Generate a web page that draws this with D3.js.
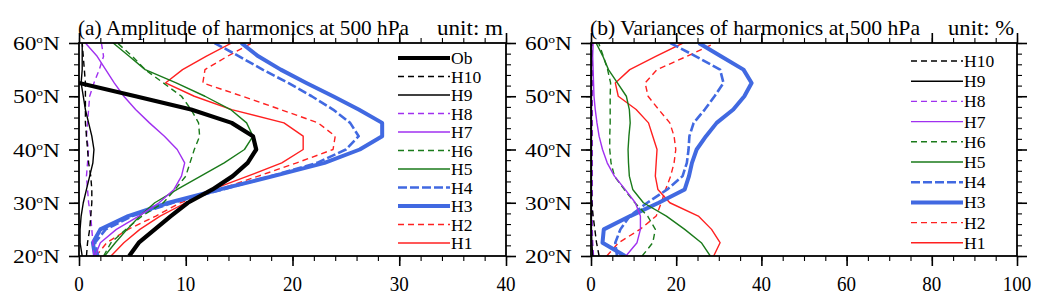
<!DOCTYPE html>
<meta charset="utf-8"/>
<style>
  body { margin: 0; background: #fff; }
  svg { font-family: "Liberation Serif", "Times New Roman", serif; }
</style>
<svg width="1042" height="305"></svg>
<script src="https://d3js.org/d3.v7.min.js"></script>
<script>

// latitudes (deg N), 2.5 deg grid
var lats = [20, 22.5, 25, 27.5, 30, 32.5, 35, 37.5, 40, 42.5, 45, 47.5, 50, 52.5, 55, 57.5, 60];

// (a) amplitude, unit m  (Ob stops at 52.5N)
var ampOb  = [4.7, 5.6, 7.1, 8.6, 10.2, 12.5, 14.4, 15.8, 16.6, 16.3, 14.3, 10.5, 5.3, 0];
var ampH1  = [3.0, 4.2, 5.7, 7.6, 10.0, 12.5, 15.8, 19.0, 21.0, 21.0, 19.2, 14.3, 10.8, 8.1, 9.7, 11.9, 14.3];
var ampH2  = [1.6, 2.6, 4.6, 7.2, 9.5, 13.1, 16.8, 20.4, 23.8, 24.0, 22.4, 18.9, 15.3, 11.6, 11.8, 13.9, 16.2];
var ampH3  = [1.5, 1.3, 2.0, 4.6, 8.4, 13.2, 18.2, 23.0, 26.3, 28.4, 28.4, 26.2, 23.8, 21.3, 18.9, 16.8, 15.2];
var ampH4  = [1.8, 1.5, 2.5, 5.0, 8.8, 13.5, 18.0, 22.3, 25.0, 26.2, 25.4, 23.8, 21.8, 19.6, 17.2, 15.0, 12.7];
var ampH5  = [2.4, 3.4, 4.5, 5.7, 7.1, 9.2, 11.4, 13.6, 15.5, 16.3, 15.7, 14.2, 11.8, 9.1, 6.2, 4.7, 3.2];
var ampH6  = [2.3, 3.0, 4.4, 5.9, 7.9, 9.0, 10.0, 10.4, 10.8, 11.3, 11.2, 10.5, 9.6, 7.9, 6.2, 5.0, 3.6];
var ampH7  = [1.5, 2.0, 3.5, 5.6, 7.5, 8.9, 9.6, 9.9, 9.2, 8.0, 6.6, 5.3, 4.2, 3.3, 2.5, 1.7, 0.6];
var ampH8  = [1.4, 1.3, 1.2, 1.1, 0.9, 0.8, 0.7, 0.8, 0.9, 0.7, 0.8, 0.9, 1.0, 1.4, 1.9, 2.3, 2.1];
var ampH9  = [0.3, 0.1, 0.1, 0.2, 0.4, 0.7, 1.0, 1.3, 1.4, 1.2, 0.9, 0.6, 0.4, 0.2, 0.3, 0.3, 0.3];
var ampH10 = [0.7, 0.8, 1.0, 1.1, 1.2, 1.2, 1.1, 0.9, 0.8, 0.7, 0.6, 0.6, 0.6, 0.6, 0.5, 0.4, 0.3];

// (b) variance, unit %
var varH1  = [28.8, 30.3, 28.3, 25.2, 18.5, 15.7, 15.1, 15.3, 15.5, 14.5, 13.5, 10.6, 6.4, 5.7, 9.1, 15.2, 21.6];
var varH2  = [3.7, 6.5, 11.5, 15.3, 16.5, 17.5, 18.7, 19.5, 19.9, 19.5, 18.5, 15.9, 13.4, 12.7, 15.5, 22.5, 29.2];
var varH3  = [8.0, 2.7, 3.0, 9.2, 15.9, 22.0, 23.0, 23.7, 24.8, 27.0, 29.5, 33.4, 36.0, 37.7, 35.8, 30.5, 25.3];
var varH4  = [6.1, 5.7, 6.9, 9.1, 13.2, 17.9, 21.5, 22.5, 22.9, 23.1, 24.1, 26.7, 29.0, 31.1, 30.3, 24.6, 18.6];
var varH5  = [28.0, 25.9, 22.0, 17.7, 12.3, 9.8, 9.0, 8.8, 8.7, 8.9, 9.2, 9.0, 8.3, 6.2, 4.1, 2.8, 1.2];
var varH6  = [12.0, 14.5, 15.1, 13.3, 10.3, 7.8, 5.5, 4.7, 4.4, 4.4, 4.5, 4.5, 4.5, 4.6, 3.9, 2.9, 1.8];
var varH7  = [8.2, 10.8, 11.6, 11.6, 10.4, 8.0, 5.5, 3.8, 2.7, 1.9, 1.4, 1.0, 0.7, 0.6, 0.5, 0.4, 0.5];
var varH8  = [0.6, 0.4, 0.3, 0.3, 0.3, 0.3, 0.3, 0.3, 0.3, 0.3, 0.3, 0.3, 0.3, 0.3, 0.3, 0.3, 0.3];
var varH9  = [0.4, 0.2, 0.1, 0.1, 0.1, 0.1, 0.1, 0.1, 0.1, 0.1, 0.1, 0.1, 0.1, 0.1, 0.1, 0.1, 0.1];
var varH10 = [1.9, 1.3, 0.9, 0.5, 0.2, 0.1, 0.1, 0.1, 0.1, 0.1, 0.1, 0.1, 0.1, 0.1, 0.1, 0.1, 0.1];

var latTicks = [20, 30, 40, 50, 60];
var ampTicks = [0, 10, 20, 30, 40];
var varTicks = [0, 20, 40, 60, 80, 100];

// line styles per legend name
var styles = {
  Ob:  { color: "#000",     width: 4.2, dash: null },
  H10: { color: "#000",     width: 1.4, dash: "6,4" },
  H9:  { color: "#000",     width: 1.4, dash: null },
  H8:  { color: "#a030f0",  width: 1.4, dash: "6,4" },
  H7:  { color: "#a030f0",  width: 1.4, dash: null },
  H6:  { color: "#1a7a1a",  width: 1.4, dash: "6,4" },
  H5:  { color: "#1a7a1a",  width: 1.4, dash: null },
  H4:  { color: "#4169e1",  width: 2.6, dash: "9,3" },
  H3:  { color: "#4169e1",  width: 4.0, dash: null },
  H2:  { color: "#ff2020",  width: 1.4, dash: "6,4" },
  H1:  { color: "#ff2020",  width: 1.4, dash: null }
};

var svg = d3.select("svg");
var top_y = 43, bot_y = 256;

function drawPanel(p) {
  var x = d3.scaleLinear().domain(p.xDomain).range([p.left, p.right]);
  var y = d3.scaleLinear().domain([20, 60]).range([bot_y, top_y]);
  var g = svg.append("g");

  var clipId = "clip" + p.id;
  g.append("clipPath").attr("id", clipId)
    .append("rect")
    .attr("x", p.left).attr("y", top_y)
    .attr("width", p.right - p.left).attr("height", bot_y - top_y);

  var line = d3.line().x(function(d) { return x(d[0]); }).y(function(d) { return y(d[1]); });

  // draw H1 first, Ob last
  var order = p.series.slice().reverse();
  order.forEach(function(s) {
    var st = styles[s.name];
    g.append("path")
      .datum(s.values.map(function(v, i) { return [v, lats[i]]; }))
      .attr("clip-path", "url(#" + clipId + ")")
      .attr("d", line)
      .attr("fill", "none")
      .attr("stroke", st.color)
      .attr("stroke-width", st.width)
      .attr("stroke-dasharray", st.dash)
      .attr("stroke-linejoin", "round");
  });

  // axes, ticks outward on all four sides
  var minorX = d3.range(p.xDomain[0], p.xDomain[1] + 0.001, p.minorStep);
  var minorY = d3.range(20, 60.001, 2);
  var axes = [
    [d3.axisBottom(x), "translate(0," + bot_y + ")", p.ticks, minorX],
    [d3.axisTop(x), "translate(0," + top_y + ")", p.ticks, minorX],
    [d3.axisLeft(y), "translate(" + p.left + ",0)", latTicks, minorY],
    [d3.axisRight(y), "translate(" + p.right + ",0)", latTicks, minorY]
  ];
  axes.forEach(function(a) {
    g.append("g").attr("transform", a[1])
      .call(a[0].tickValues(a[3]).tickSize(5).tickSizeOuter(0).tickFormat(""))
      .call(function(s) { s.select(".domain").remove(); })
      .selectAll("line").attr("stroke-width", 1.1);
    g.append("g").attr("transform", a[1])
      .call(a[0].tickValues(a[2]).tickSize(10).tickSizeOuter(0).tickFormat(""))
      .call(function(s) { s.select(".domain").remove(); })
      .selectAll("line").attr("stroke-width", 1.6);
  });

  g.append("rect")
    .attr("x", p.left).attr("y", top_y)
    .attr("width", p.right - p.left).attr("height", bot_y - top_y)
    .attr("fill", "none").attr("stroke", "#000").attr("stroke-width", 1.8);

  // x tick labels (narrow digits)
  p.ticks.forEach(function(t) {
    g.append("text")
      .attr("x", x(t)).attr("y", 291)
      .attr("text-anchor", "middle")
      .style("font-size", "21px")
      .attr("textLength", String(t).length * 9.5)
      .attr("lengthAdjust", "spacingAndGlyphs")
      .text(t);
  });

  // latitude labels
  latTicks.forEach(function(t) {
    var tx = g.append("text")
      .attr("x", p.left - 66).attr("y", y(t) + 7)
      .attr("textLength", 47)
      .attr("lengthAdjust", "spacingAndGlyphs")
      .style("font-size", "19px");
    tx.append("tspan").text(t);
    tx.append("tspan").attr("dy", -7).style("font-size", "11px").text("o");
    tx.append("tspan").attr("dy", 7).text("N");
  });

  // titles, widths
  g.append("text").attr("x", p.left - 1).attr("y", 35)
    .attr("textLength", p.titleW).attr("lengthAdjust", "spacingAndGlyphs")
    .style("font-size", "22px").text(p.title);
  g.append("text").attr("x", p.right - 69).attr("y", 35)
    .attr("textLength", 66).attr("lengthAdjust", "spacingAndGlyphs")
    .style("font-size", "22px").text(p.unit);

  // legend
  p.series.forEach(function(s, i) {
    var st = styles[s.name];
    var ly = p.legY0 + i * p.legStep;
    g.append("line")
      .attr("x1", p.legX).attr("x2", p.legX + 52)
      .attr("y1", ly).attr("y2", ly)
      .attr("stroke", st.color)
      .attr("stroke-width", st.width)
      .attr("stroke-dasharray", st.dash);
    g.append("text")
      .attr("x", p.legX + 53).attr("y", ly + 6)
      .style("font-size", "17.5px")
      .text(s.name);
  });
}

drawPanel({
  id: "a", left: 79, right: 506, xDomain: [0, 40], ticks: ampTicks, minorStep: 2,
  title: "(a) Amplitude of harmonics at 500 hPa", titleW: 331, unit: "unit: m",
  legX: 398, legY0: 58, legStep: 18.5,
  series: [
    { name: "Ob", values: ampOb }, { name: "H10", values: ampH10 }, { name: "H9", values: ampH9 },
    { name: "H8", values: ampH8 }, { name: "H7", values: ampH7 }, { name: "H6", values: ampH6 },
    { name: "H5", values: ampH5 }, { name: "H4", values: ampH4 }, { name: "H3", values: ampH3 },
    { name: "H2", values: ampH2 }, { name: "H1", values: ampH1 }
  ]
});

drawPanel({
  id: "b", left: 591, right: 1017, xDomain: [0, 100], ticks: varTicks, minorStep: 5,
  title: "(b) Variances of harmonics at 500 hPa", titleW: 330, unit: "unit: %",
  legX: 911, legY0: 61, legStep: 20.2,
  series: [
    { name: "H10", values: varH10 }, { name: "H9", values: varH9 },
    { name: "H8", values: varH8 }, { name: "H7", values: varH7 }, { name: "H6", values: varH6 },
    { name: "H5", values: varH5 }, { name: "H4", values: varH4 }, { name: "H3", values: varH3 },
    { name: "H2", values: varH2 }, { name: "H1", values: varH1 }
  ]
});

</script>
